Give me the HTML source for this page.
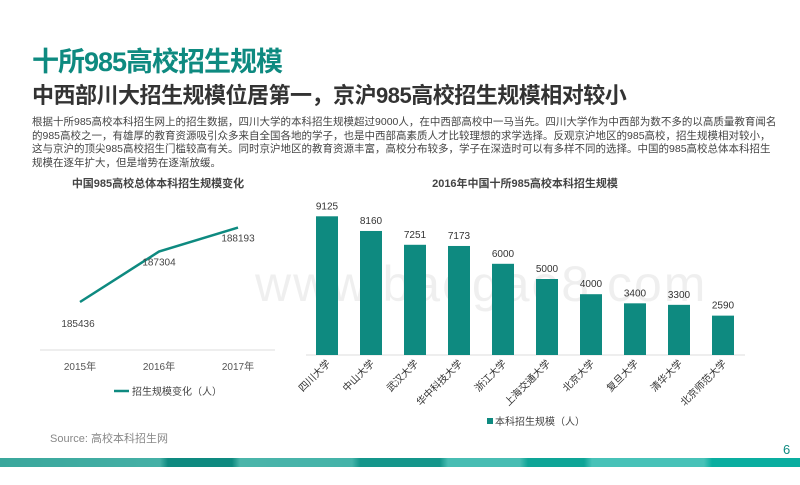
<!DOCTYPE html>
<html><head><meta charset="utf-8"><style>
body{margin:0;width:800px;height:485px;background:#fff;position:relative;overflow:hidden;font-family:"Liberation Sans","Noto Sans CJK SC",sans-serif}
.t{position:absolute;white-space:nowrap}
</style></head><body>
<div class="t" style="left:32px;top:40px;font-size:27px;font-weight:bold;color:#0e8a80;letter-spacing:-1px">十所985高校招生规模</div>
<div class="t" style="left:32px;top:78px;font-size:22px;font-weight:bold;color:#333;letter-spacing:-0.5px">中西部川大招生规模位居第一，京沪985高校招生规模相对较小</div>
<div style="position:absolute;left:32px;top:116px;width:745px;font-size:10.5px;line-height:13.5px;color:#444;letter-spacing:0">根据十所985高校本科招生网上的招生数据，四川大学的本科招生规模超过9000人，在中西部高校中一马当先。四川大学作为中西部为数不多的以高质量教育闻名的985高校之一，有雄厚的教育资源吸引众多来自全国各地的学子，也是中西部高素质人才比较理想的求学选择。反观京沪地区的985高校，招生规模相对较小，这与京沪的顶尖985高校招生门槛较高有关。同时京沪地区的教育资源丰富，高校分布较多，学子在深造时可以有多样不同的选择。中国的985高校总体本科招生规模在逐年扩大，但是增势在逐渐放缓。</div>
<div class="t" style="left:255px;top:255px;font-size:50px;color:#000;opacity:0.06;letter-spacing:2px">www.baogao8.com</div>
<svg id="c" width="800" height="485" style="position:absolute;left:0;top:0"></svg>
<div class="t" style="left:50px;top:430px;font-size:11px;color:#888">Source: 高校本科招生网</div>
<div class="t" style="left:783px;top:442px;font-size:13px;color:#0e8a80">6</div>
<div style="position:absolute;left:0;top:458px;width:800px;height:9px;background:linear-gradient(90deg,#3aa79c 0%,#45b0a6 20%,#0e8a80 21%,#0e8a80 29%,#4bb5aa 30%,#44b3a9 44%,#14968b 45%,#14968b 55%,#48bdb3 56%,#48bdb3 65%,#0ea597 66%,#0ea597 73%,#47c2b8 74%,#47c2b8 88%,#0aaea0 89%,#0aaea0 100%)"></div>
<script>
const years=["2015年","2016年","2017年"];
const totals=[185436,187304,188193];
const schools=["四川大学","中山大学","武汉大学","华中科技大学","浙江大学","上海交通大学","北京大学","复旦大学","清华大学","北京师范大学"];
const enroll=[9125,8160,7251,7173,6000,5000,4000,3400,3300,2590];
const svg=document.getElementById('c');
const NS='http://www.w3.org/2000/svg';
function mk(tag,attrs,txt){const e=document.createElementNS(NS,tag);for(const k in attrs)e.setAttribute(k,attrs[k]);if(txt!==undefined)e.textContent=txt;svg.appendChild(e);return e;}
const F='Liberation Sans, Noto Sans CJK SC, sans-serif';
let t=mk('text',{x:158,y:187,'text-anchor':'middle','font-size':11,'font-weight':'bold',fill:'#444','font-family':F},'中国985高校总体本科招生规模变化');


const lx=i=>80+i*79;
const ly=v=>302-(v-185436)*0.027;
let a=mk('line',{x1:40,y1:350,x2:275,y2:350,stroke:'#ddd'});


let pts=totals.map((v,i)=>lx(i)+','+ly(v)).join(' ');
let pl=mk('polyline',{points:pts,fill:'none',stroke:'#0e8a80','stroke-width':2.5});


const off=[[ -2,25],[0,14],[0,14]];
totals.forEach((v,i)=>{
 let tl=mk('text',{x:lx(i)+off[i][0],y:ly(v)+off[i][1],'text-anchor':'middle','font-size':10,fill:'#444','font-family':F},v);
 
 
 let yl=mk('text',{x:lx(i),y:370,'text-anchor':'middle','font-size':10,fill:'#555','font-family':F},years[i]);
 
 
});
let lg=mk('line',{x1:114,y1:391,x2:129,y2:391,stroke:'#0e8a80','stroke-width':2.5});


let lgt=mk('text',{x:132,y:395,'font-size':10,fill:'#444','font-family':F},'招生规模变化（人）');


let bt=mk('text',{x:525,y:187,'text-anchor':'middle','font-size':11,'font-weight':'bold',fill:'#444','font-family':F},'2016年中国十所985高校本科招生规模');


const base=355,bx=i=>327+i*44,bh=v=>v*0.0152;
let ax=mk('line',{x1:306,y1:base,x2:745,y2:base,stroke:'#ddd'});


enroll.forEach((v,i)=>{
 let r=mk('rect',{x:bx(i)-11,y:base-bh(v),width:22,height:bh(v),fill:'#0e8a80'});
 
 
 let vl=mk('text',{x:bx(i),y:base-bh(v)-7,'text-anchor':'middle','font-size':10,fill:'#333','font-family':F},v);
 
 
 let sl=mk('text',{x:bx(i)+4,y:base+9,'text-anchor':'end','font-size':10,fill:'#333','font-family':F,transform:'rotate(-45 '+(bx(i)+4)+' '+(base+9)+')'},schools[i]);
 
 
});
let bs=mk('rect',{x:487,y:418,width:6,height:6,fill:'#0e8a80'});


let bl=mk('text',{x:495,y:425,'font-size':10,fill:'#444','font-family':F},'本科招生规模（人）');


</script>
</body></html>
